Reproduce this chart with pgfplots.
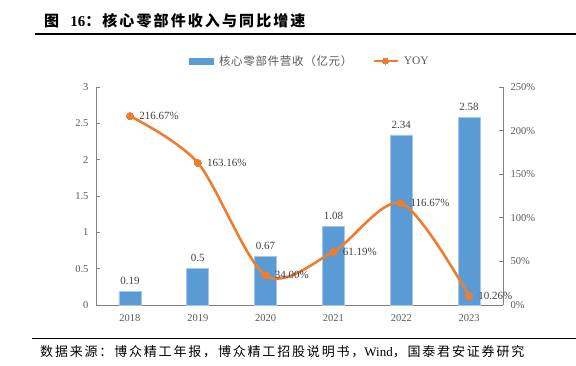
\documentclass[border=0pt]{standalone}
\usepackage{pgfplots}
\pgfplotsset{compat=1.18}
\usepackage{fontspec}
\setmainfont{Liberation Serif}
\newfontfamily\cjk{Noto Sans CJK SC}
\newfontfamily\cjkl[LetterSpace=6]{Noto Sans CJK SC}
\newfontfamily\cjkt[LetterSpace=14]{Noto Sans CJK SC}
\newfontfamily\cjks[LetterSpace=14]{Noto Sans CJK SC}
\definecolor{barblue}{HTML}{5B9BD5}
\definecolor{lineor}{HTML}{ED7D31}
\definecolor{axgray}{HTML}{808080}
\definecolor{txtgray}{HTML}{595959}
\definecolor{lblgray}{HTML}{404040}
\begin{document}
\begin{tikzpicture}[x=1pt,y=1pt]
\useasboundingbox (0,0) rectangle (576,365);
\node[anchor=west,inner sep=0pt,font=\fontsize{15}{15}\selectfont] at (44,344) {\cjkt\bfseries 图\ \ {\rmfamily\bfseries 16}：核心零部件收入与同比增速};
\draw[line width=1.3pt] (35,331) -- (576,331);
\draw[line width=0.8pt] (32,27) -- (576,27);
\node[anchor=west,inner sep=0pt,font=\fontsize{13}{13}\selectfont] at (40,13) {\cjks 数据来源：博众精工年报，博众精工招股说明书，{\rmfamily Wind}，国泰君安证券研究};
\begin{axis}[
  at={(96pt,60pt)}, anchor=south west, scale only axis,
  width=407pt, height=218pt,
  xmin=-0.5, xmax=5.5, ymin=0, ymax=3,
  axis lines*=left,
  axis line style={axgray, line width=0.8pt},
  xtick={0,...,5}, xticklabels={2018,2019,2020,2021,2022,2023},
  x tick style={draw=none},
  extra x ticks={0.5,1.5,2.5,3.5,4.5}, extra x tick labels={},
  extra x tick style={major tick length=4pt, tick style={axgray, line width=0.8pt}},
  ytick={0,0.5,...,3},
  y tick style={axgray, line width=0.8pt}, major tick length=4pt,
  tick align=inside,
  /pgf/number format/assume math mode=true,
  ticklabel style={font=\fontsize{10.5}{10.5}\selectfont, text=txtgray},
  yticklabel style={/pgf/number format/fixed, xshift=-4pt},
  xticklabel style={yshift=-2pt},
  ybar, bar width=22pt,
  nodes near coords={\pgfmathprintnumber[fixed,precision=2]{\pgfplotspointmeta}},
  nodes near coords style={font=\fontsize{11}{11}\selectfont, text=lblgray, yshift=3pt},
  clip=false,
]
\addplot[fill=barblue, draw=barblue!55!white, line width=0.6pt] coordinates {(0,0.19)(1,0.5)(2,0.67)(3,1.08)(4,2.34)(5,2.58)};
\end{axis}
\begin{axis}[
  at={(96pt,60pt)}, anchor=south west, scale only axis,
  width=407pt, height=218pt,
  xmin=-0.5, xmax=5.5, ymin=0, ymax=250,
  axis y line*=right, axis x line=none,
  axis line style={axgray, line width=0.8pt},
  ytick={0,50,...,250},
  yticklabel={\pgfmathprintnumber{\tick}\%},
  y tick style={axgray, line width=0.8pt}, major tick length=4pt,
  tick align=inside,
  /pgf/number format/assume math mode=true,
  ticklabel style={font=\fontsize{10.5}{10.5}\selectfont, text=txtgray},
  yticklabel style={xshift=4pt},
  clip=false,
  legend columns=2,
  legend style={draw=none, fill=none, at={(0.525,1.119)}, anchor=center,
    font=\fontsize{11.5}{11.5}\selectfont\cjkl, text=txtgray,
    /tikz/every even column/.append style={column sep=18pt}},
  legend image code/.code={\draw[mark repeat=2,mark phase=2,#1, line width=2.2pt, mark size=3pt] plot coordinates {(0pt,0pt)(12pt,0pt)(24pt,0pt)}; \path (27pt,0pt);},
]
\addlegendimage{legend image code/.code={\fill[barblue] (0pt,-3pt) rectangle (24pt,3pt); \path (28pt,0pt);}}
\addlegendentry{核心零部件营收（亿元）}
\addplot[lineor, line width=2.6pt, smooth, mark=*, mark size=3.6pt,
  mark options={fill=lineor, draw=lineor, line width=0pt},
  nodes near coords, point meta=explicit symbolic,
  nodes near coords style={anchor=west, xshift=6pt, font=\fontsize{11}{11}\selectfont, text=lblgray}]
  table[meta=lab] {
x y lab
0 216.67 216.67\%
1 163.16 163.16\%
2 34.00 34.00\%
3 61.19 61.19\%
4 116.67 116.67\%
5 10.26 10.26\%
};
\addlegendentry{\rmfamily YOY}
\end{axis}
\end{tikzpicture}
\end{document}
